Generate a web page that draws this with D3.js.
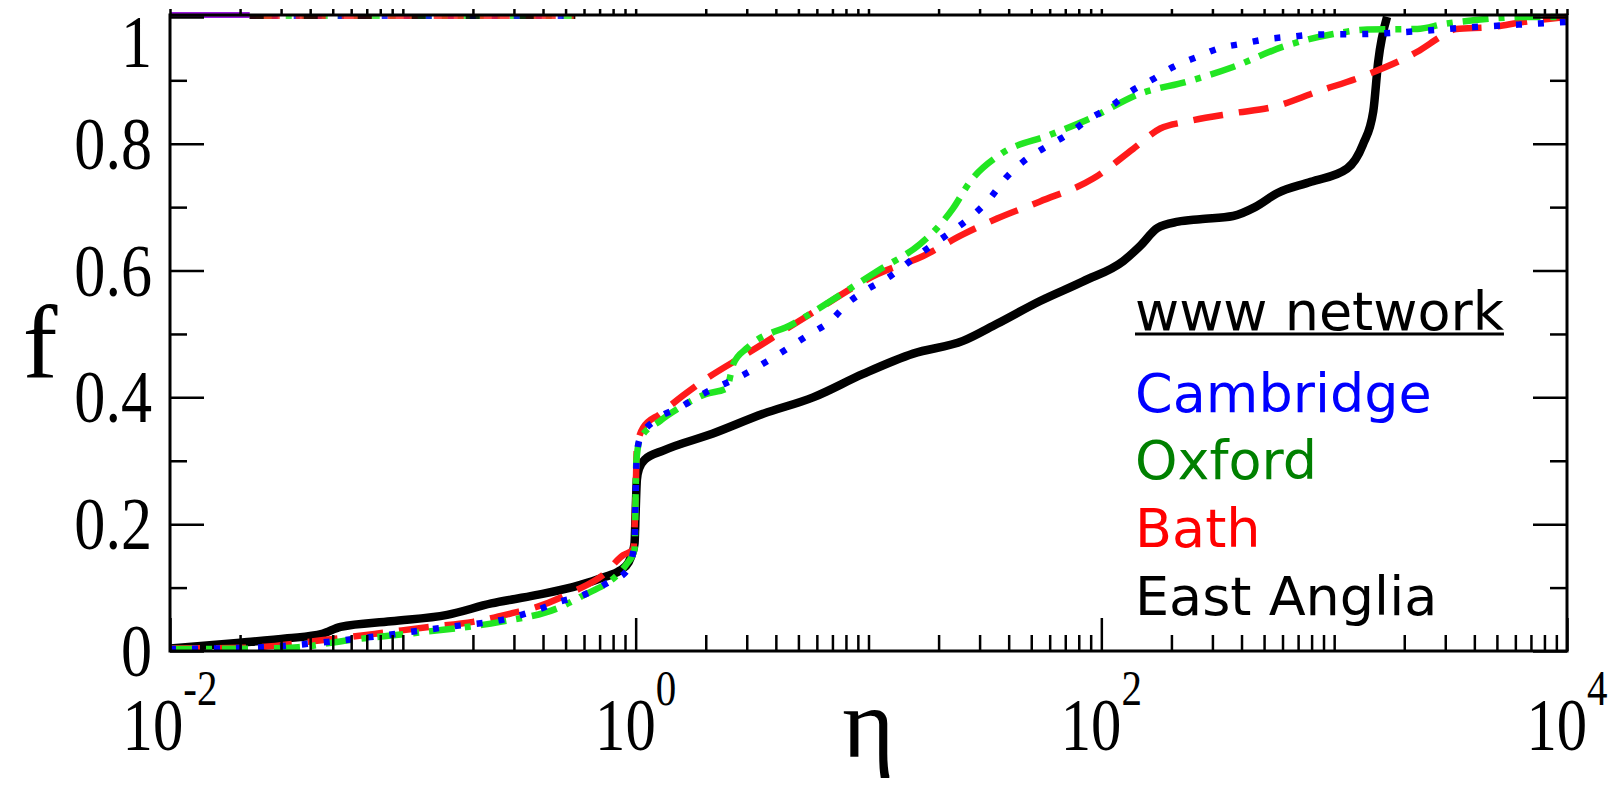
<!DOCTYPE html>
<html><head><meta charset="utf-8">
<script src="https://cdn.jsdelivr.net/npm/d3@7"></script>
<style>html,body{margin:0;padding:0;background:#fff;} svg{display:block}</style>
</head><body><svg id="c" width="1616" height="786"></svg>
<script>
// ---------- data ----------
const seriesNames = ["Cambridge", "Oxford", "Bath", "East Anglia"];
const legendTitle = "www network";
const xTickValues = [1e-2, 1e0, 1e2, 1e4];
const xTickExponents = ["-2", "0", "2", "4"];
const yTickValues = [0, 0.2, 0.4, 0.6, 0.8, 1];
const yTickLabels = ["0", "0.2", "0.4", "0.6", "0.8", "1"];
const yMinorValues = [0.1, 0.3, 0.5, 0.7, 0.9];

const etaCambridge = [0.01, 0.0251, 0.0437, 0.0724, 0.183, 0.240, 0.373, 0.465, 0.594, 0.753, 0.918, 0.989, 1.0, 1.012, 1.045, 1.236, 1.549, 1.892, 2.951, 3.673, 5.610, 6.839, 8.166, 9.954, 12.39, 15.10, 18.41, 22.86, 27.86, 33.27, 38.64, 46.24, 58.48, 71.29, 87.70, 109.1, 133.0, 165.2, 203.2, 258.2, 317.7, 406.4, 515.2, 660.7, 827.9, 1358, 2188, 3981, 6310, 10000];
const fCambridge   = [0.003, 0.006, 0.013, 0.022, 0.041, 0.046, 0.064, 0.077, 0.088, 0.107, 0.127, 0.17, 0.25, 0.31, 0.336, 0.366, 0.384, 0.403, 0.437, 0.457, 0.50, 0.52, 0.549, 0.571, 0.591, 0.615, 0.638, 0.662, 0.686, 0.714, 0.745, 0.772, 0.796, 0.814, 0.838, 0.858, 0.882, 0.901, 0.921, 0.937, 0.950, 0.958, 0.965, 0.969, 0.972, 0.973, 0.977, 0.984, 0.988, 0.992];

const etaOxford = [0.01, 0.0251, 0.0355, 0.0582, 0.123, 0.262, 0.473, 0.577, 0.918, 0.989, 1.007, 1.047, 1.274, 1.549, 1.995, 2.455, 2.630, 3.013, 4.742, 10.89, 16.67, 19.72, 23.07, 27.29, 36.73, 60.26, 89.54, 146.9, 233.9, 368.1, 603.9, 990.8, 1387, 2275, 2972, 4036, 6745, 10000];
const fOxford   = [0.003, 0.004, 0.006, 0.017, 0.030, 0.046, 0.069, 0.085, 0.138, 0.16, 0.30, 0.335, 0.363, 0.384, 0.405, 0.414, 0.453, 0.478, 0.516, 0.599, 0.642, 0.667, 0.698, 0.740, 0.783, 0.814, 0.840, 0.879, 0.898, 0.921, 0.953, 0.973, 0.980, 0.981, 0.989, 0.995, 1.0, 1.0];

const etaBath = [0.01, 0.0209, 0.0447, 0.0794, 0.130, 0.200, 0.298, 0.372, 0.550, 0.724, 0.883, 0.977, 1.0, 1.012, 1.076, 1.274, 1.600, 1.950, 3.013, 5.610, 10.89, 17.18, 25.47, 35.65, 54.58, 92.26, 137.1, 179.1, 233.9, 368.1, 547.0, 845.3, 1387, 2275, 2972, 3342, 4721, 6486, 10000];
const fBath   = [0.004, 0.005, 0.017, 0.028, 0.038, 0.046, 0.060, 0.069, 0.095, 0.120, 0.151, 0.16, 0.25, 0.32, 0.352, 0.374, 0.403, 0.426, 0.469, 0.531, 0.594, 0.623, 0.657, 0.682, 0.709, 0.745, 0.792, 0.824, 0.835, 0.848, 0.858, 0.882, 0.909, 0.945, 0.972, 0.981, 0.984, 0.992, 1.0];

const etaEastAnglia = [0.01, 0.020, 0.032, 0.045, 0.054, 0.089, 0.155, 0.24, 0.372, 0.575, 0.724, 0.857, 0.933, 0.966, 0.989, 1.0, 1.012, 1.035, 1.096, 1.312, 2.148, 3.524, 5.781, 9.484, 15.56, 25.47, 35.65, 54.58, 83.56, 124.2, 147.9, 173.8, 213.8, 265.5, 368.1, 457.1, 568.9, 794.3, 1138, 1330, 1472, 1545, 1687];
const fEastAnglia   = [0.004, 0.013, 0.020, 0.027, 0.038, 0.047, 0.057, 0.075, 0.088, 0.104, 0.116, 0.127, 0.140, 0.154, 0.17, 0.22, 0.27, 0.288, 0.302, 0.316, 0.343, 0.374, 0.400, 0.437, 0.469, 0.489, 0.516, 0.552, 0.583, 0.615, 0.640, 0.667, 0.677, 0.681, 0.686, 0.700, 0.722, 0.740, 0.761, 0.799, 0.851, 0.929, 1.0];

// stray traces lying on the top frame
const etaTopPurple = [0.01, 0.022];
const fTopPurple = [1.003, 1.003];
const etaTopEdge = [0.022, 0.55];
const fTopEdge = [1.0, 1.0];

// ---------- layout ----------
const L = 170, R = 1567, T = 15, B = 651;
const svg = d3.select("#c");
const x = d3.scaleLog().domain([1e-2, 1e4]).range([L, R]);
const y = d3.scaleLinear().domain([0, 1.003]).range([B, T]);

const styles = {
  "Cambridge":   {color: "#0000ff", dash: "6,16", width: 6.5, text: "#0000ff"},
  "Oxford":      {color: "#22e622", dash: "26,10,6,10", width: 6.5, text: "#008000"},
  "Bath":        {color: "#ff1a1a", dash: "30,16", width: 6.5, text: "#ff0000"},
  "East Anglia": {color: "#000000", dash: null, width: 8.5, text: "#000000"}
};
const seriesData = {
  "Cambridge": [etaCambridge, fCambridge],
  "Oxford": [etaOxford, fOxford],
  "Bath": [etaBath, fBath],
  "East Anglia": [etaEastAnglia, fEastAnglia]
};

svg.append("defs").append("clipPath").attr("id", "clip")
  .append("rect").attr("x", L).attr("y", 8).attr("width", R - L).attr("height", B - 8);

const line = d3.line().x(d => x(d[0])).y(d => y(d[1])).curve(d3.curveMonotoneX);
const gCurves = svg.append("g").attr("clip-path", "url(#clip)");

// top stray traces
gCurves.append("path").datum(d3.zip(etaTopPurple, fTopPurple)).attr("d", line)
  .attr("fill", "none").attr("stroke", "#9a1adf").attr("stroke-width", 6);
["Oxford", "Cambridge", "Bath", "East Anglia"].forEach(name => {
  const s = styles[name];
  gCurves.append("path").datum(d3.zip(etaTopEdge, fTopEdge)).attr("d", line)
    .attr("fill", "none").attr("stroke", s.color).attr("stroke-width", 4)
    .attr("stroke-dasharray", s.dash || "14,40").attr("opacity", 0.8);
});

// main curves (draw order: black, red, green, blue)
["East Anglia", "Bath", "Oxford", "Cambridge"].forEach(name => {
  const s = styles[name];
  const [e, f] = seriesData[name];
  gCurves.append("path").datum(d3.zip(e, f)).attr("d", line)
    .attr("fill", "none").attr("stroke", s.color).attr("stroke-width", s.width)
    .attr("stroke-dasharray", s.dash).attr("stroke-linejoin", "round")
    .attr("stroke-linecap", "butt");
});

// ---------- axes ----------
const allX = x.ticks();
const xMinor = allX.filter(v => !xTickValues.some(m => Math.abs(Math.log10(v) - Math.log10(m)) < 1e-6));
function styleAxis(g) { g.select(".domain").remove(); g.selectAll("line").attr("stroke", "#000").attr("stroke-width", 2.5); g.selectAll("text").remove(); }

svg.append("g").attr("transform", `translate(0,${B})`).call(d3.axisTop(x).tickValues(xTickValues).tickSize(33)).call(styleAxis);
svg.append("g").attr("transform", `translate(0,${B})`).call(d3.axisTop(x).tickValues(xMinor).tickSize(16)).call(styleAxis);
svg.append("g").attr("transform", `translate(0,${T})`).call(d3.axisTop(x).tickValues(allX).tickSize(6)).call(styleAxis);

svg.append("g").attr("transform", `translate(${L},0)`).call(d3.axisRight(y).tickValues(yTickValues).tickSize(34)).call(styleAxis);
svg.append("g").attr("transform", `translate(${L},0)`).call(d3.axisRight(y).tickValues(yMinorValues).tickSize(17)).call(styleAxis);
svg.append("g").attr("transform", `translate(${R},0)`).call(d3.axisLeft(y).tickValues(yTickValues).tickSize(34)).call(styleAxis);
svg.append("g").attr("transform", `translate(${R},0)`).call(d3.axisLeft(y).tickValues(yMinorValues).tickSize(17)).call(styleAxis);

// frame
svg.append("rect").attr("x", L).attr("y", T).attr("width", R - L).attr("height", B - T)
  .attr("fill", "none").attr("stroke", "#000").attr("stroke-width", 3);

// tick labels
const serif = "'Liberation Serif','Times New Roman',serif";
xTickValues.forEach((v, i) => {
  const g = svg.append("g").attr("transform", `translate(${x(v)},750) scale(0.82,1)`);
  const t = g.append("text").attr("text-anchor", "middle").attr("font-family", serif).attr("fill", "#000");
  t.append("tspan").attr("font-size", 74).text("10");
  t.append("tspan").attr("font-size", 50).attr("dy", -45).text(xTickExponents[i]);
});
yTickValues.forEach((v, i) => {
  const yy = y(v) + 25 + (v === 1 ? 25 : 0);
  svg.append("g").attr("transform", `translate(152,${yy}) scale(0.84,1)`)
    .append("text").attr("text-anchor", "end").attr("font-family", serif)
    .attr("font-size", 74).attr("fill", "#000").text(yTickLabels[i]);
});

// axis titles
svg.append("text").attr("x", 40).attr("y", 377).attr("text-anchor", "middle")
  .attr("font-family", serif).attr("font-size", 104).text("f");
svg.append("text").attr("x", (L + R) / 2).attr("y", 757).attr("text-anchor", "middle")
  .attr("font-family", serif).attr("font-size", 100).text("η");

// legend
const sans = "'DejaVu Sans',sans-serif";
const lt = svg.append("text").attr("x", 1135).attr("y", 330).attr("font-family", sans)
  .attr("font-size", 54).attr("fill", "#000").text(legendTitle);
const w = lt.node().getComputedTextLength();
svg.append("line").attr("x1", 1135).attr("x2", 1135 + w).attr("y1", 334).attr("y2", 334)
  .attr("stroke", "#000").attr("stroke-width", 3);
const legendY = [412, 479, 547, 615];
seriesNames.forEach((n, i) => {
  svg.append("text").attr("x", 1135).attr("y", legendY[i]).attr("font-family", sans)
    .attr("font-size", 54).attr("fill", styles[n].text).text(n);
});
</script></body></html>
